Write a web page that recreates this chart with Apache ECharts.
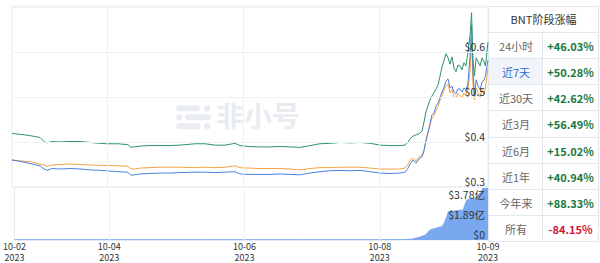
<!DOCTYPE html>
<html><head><meta charset="utf-8">
<script src="https://cdn.jsdelivr.net/npm/echarts@6/dist/echarts.min.js"></script>
<style>html,body{margin:0;padding:0;background:#fff}#c{width:600px;height:263px}</style>
</head><body><div id="c"></div>
<script>
// hours since 2023-10-02 00:00
const hours = [14.4,17.2,20.8,24.3,25.7,26.8,28.5,31.3,34.9,38.4,41.9,45.5,47.9,51.8,55.3,56.4,57.5,59.6,63.1,66.6,70.2,73.7,79.0,82.5,86.1,89.6,93.1,94.9,97.7,101.9,105.5,109.0,112.5,116.1,119.6,123.1,126.6,130.2,133.7,137.2,140.8,144.3,147.8,151.3,153.1,154.2,154.9,155.9,157.0,158.0,159.1,159.8,160.5,161.2,161.9,162.6,163.3,164.1,164.8,165.5,166.2,166.9,167.6,168.3,169.0,169.7,170.4,171.1,171.8,172.5,173.2,173.9,174.6,175.3,176.1,176.6,177.1,177.6,178.2,178.9,179.6,180.3,181.0,181.5,182.4];
const greenLine = [0.419,0.417,0.414,0.410,0.401,0.398,0.401,0.400,0.401,0.401,0.399,0.397,0.396,0.396,0.394,0.388,0.389,0.391,0.392,0.392,0.392,0.393,0.396,0.396,0.393,0.393,0.397,0.392,0.390,0.389,0.389,0.390,0.389,0.388,0.392,0.396,0.397,0.399,0.398,0.399,0.397,0.393,0.392,0.392,0.393,0.400,0.407,0.413,0.416,0.418,0.424,0.444,0.467,0.480,0.493,0.502,0.509,0.518,0.527,0.547,0.567,0.582,0.596,0.587,0.573,0.589,0.564,0.556,0.571,0.569,0.560,0.576,0.569,0.598,0.638,0.687,0.582,0.547,0.587,0.578,0.569,0.587,0.578,0.569,0.622];
const orangeLine = [0.360,0.358,0.356,0.351,0.349,0.346,0.349,0.350,0.351,0.350,0.349,0.348,0.348,0.347,0.346,0.340,0.340,0.342,0.343,0.344,0.344,0.344,0.343,0.344,0.343,0.344,0.347,0.343,0.342,0.341,0.341,0.341,0.340,0.338,0.341,0.343,0.343,0.344,0.344,0.344,0.342,0.340,0.340,0.340,0.342,0.351,0.360,0.364,0.358,0.367,0.369,0.382,0.404,0.420,0.436,0.453,0.458,0.471,0.478,0.493,0.504,0.516,0.524,0.529,0.509,0.516,0.500,0.498,0.507,0.504,0.498,0.509,0.504,0.516,0.560,0.631,0.527,0.493,0.520,0.509,0.500,0.516,0.507,0.520,0.564];
const blueLine = [0.360,0.357,0.352,0.347,0.340,0.337,0.341,0.340,0.341,0.340,0.338,0.337,0.336,0.334,0.333,0.326,0.327,0.329,0.330,0.331,0.331,0.332,0.333,0.333,0.332,0.333,0.334,0.329,0.328,0.328,0.328,0.329,0.328,0.327,0.331,0.334,0.336,0.337,0.336,0.337,0.334,0.331,0.330,0.331,0.333,0.342,0.351,0.360,0.353,0.362,0.367,0.380,0.402,0.420,0.440,0.460,0.464,0.480,0.487,0.500,0.511,0.522,0.536,0.540,0.520,0.524,0.511,0.507,0.518,0.518,0.511,0.520,0.516,0.529,0.593,0.660,0.556,0.502,0.538,0.524,0.516,0.533,0.538,0.547,0.582];
// volume, in 亿
const volHours = [14.4,45.5,80.8,116.1,144.3,151.3,153.1,155.6,158.4,160.2,161.9,164.1,166.1,166.9,167.8,168.3,170.7,173.6,174.2,174.9,176.7,177.7,178.9,179.9,180.6,182.4];
const volume = [0.02,0.02,0.02,0.02,0.02,0.03,0.04,0.09,0.28,0.47,0.95,1.13,1.26,1.6,2.2,2.67,2.74,2.84,3.3,3.78,3.87,3.97,4.25,4.54,4.91,5.0];
const xLabelHours = [14.4,48,96,144,182.4];
const xGridHours = [48,96,144];
const yearLabel = '2023';
const priceTicks = [0.3,0.4,0.5,0.6];
const volumeTicks = [0,1.89,3.78];
const periodLabels = ['24小时','近7天','近30天','近3月','近6月','近1年','今年来','所有'];
const periodChanges = ['+46.03%','+50.28%','+42.62%','+56.49%','+15.02%','+40.94%','+88.33%','-84.15%'];
const tableTitle = 'BNT阶段涨幅';

const FONT = '"Noto Sans CJK SC","Noto Sans",sans-serif';
const chart = echarts.init(document.getElementById('c'), null, {renderer:'svg'});
const dateLabel = v => '10-' + String(2 + Math.floor(v/24 + 1e-6)).padStart(2,'0');
const gridMark = {symbol:['none','none'], silent:true, label:{show:false},
  lineStyle:{color:'#eef1f5', width:1, type:'solid'}, data: xGridHours.map(h=>({xAxis:h}))};
const pair = arr => hours.map((h,i)=>[h, arr[i]]);

// table graphics
const tX0 = 488, tX1 = 542, tX2 = 599, tTop = 6, hdrH = 26, rowH = 26.125;
const gfx = [];
// watermark
const wm = '#e9ecf1';
gfx.push({type:'group', left:176, top:105, z:-10, children:[
  {type:'rect', shape:{x:0,y:0,width:24,height:6,r:3}, style:{fill:wm}},
  {type:'circle', shape:{cx:31,cy:3,r:3.3}, style:{fill:wm}},
  {type:'circle', shape:{cx:3,cy:12,r:3.3}, style:{fill:wm}},
  {type:'rect', shape:{x:9,y:9,width:26,height:6,r:3}, style:{fill:wm}},
  {type:'rect', shape:{x:0,y:18,width:24,height:6,r:3}, style:{fill:wm}},
  {type:'circle', shape:{cx:31,cy:21,r:3.3}, style:{fill:wm}}
]});
gfx.push({type:'text', left:216, top:101, z:-10, style:{text:'非小号', fill:wm, font:'bold 28px "Noto Sans CJK SC"'}});
gfx.push({type:'rect', shape:{x:tX0+0.5, y:tTop+0.5, width:tX2-tX0-1, height:hdrH+rowH*8}, style:{fill:'#fff', stroke:'#e3e7ee', lineWidth:1}});
gfx.push({type:'text', x:(tX0+tX2)/2, y:tTop+hdrH/2, style:{text:tableTitle, fill:'#333', font:'11px '+FONT, align:'center', verticalAlign:'middle'}});
periodLabels.forEach((lab,i)=>{
  const top = tTop + hdrH + i*rowH;
  if (i === 1) gfx.push({type:'rect', shape:{x:tX0+1, y:top+0.5, width:tX1-tX0-1, height:rowH-1}, style:{fill:'#f1f4f9'}});
  gfx.push({type:'line', shape:{x1:tX0, y1:Math.round(top)+0.5, x2:tX2, y2:Math.round(top)+0.5}, style:{stroke:'#e3e7ee', lineWidth:1}});
  gfx.push({type:'text', x:(tX0+tX1)/2+1, y:top+rowH/2+1, style:{text:lab, fill: i===1?'#2f6fd6':'#666', font:'11px '+FONT, align:'center', verticalAlign:'middle'}});
  const neg = periodChanges[i].charAt(0)==='-';
  gfx.push({type:'text', x:(tX1+tX2)/2, y:top+rowH/2+1, style:{text:periodChanges[i], fill: neg?'#d2183b':'#177a43', font:'bold 11px '+FONT, align:'center', verticalAlign:'middle'}});
});
gfx.push({type:'line', shape:{x1:tX1+0.5, y1:tTop+hdrH, x2:tX1+0.5, y2:tTop+hdrH+rowH*8}, style:{stroke:'#e3e7ee', lineWidth:1}});

chart.setOption({
  animation:false,
  textStyle:{fontFamily:FONT},
  grid:[
    {left:12, top:6, width:476, height:181, show:true, borderColor:'#e6eaf1', borderWidth:1},
    {left:12, top:187, width:476, height:53, show:true, borderColor:'#e6eaf1', borderWidth:1}
  ],
  xAxis:[
    {type:'value', gridIndex:0, min:14.4, max:182.4, axisLine:{show:false}, axisTick:{show:false}, axisLabel:{show:false}, splitLine:{show:false}},
    {type:'value', gridIndex:1, position:'bottom', offset:0, min:14.4, max:182.4, axisLine:{show:false}, axisTick:{show:false}, splitLine:{show:false},
     axisLabel:{customValues:xLabelHours, formatter:dateLabel, color:'#333', fontSize:9, lineHeight:10, margin:1.5, fontFamily:FONT}},
    {type:'value', gridIndex:1, position:'bottom', offset:0, min:14.4, max:182.4, axisLine:{show:false}, axisTick:{show:false}, splitLine:{show:false},
     axisLabel:{customValues:xLabelHours, formatter:()=>yearLabel, color:'#333', fontSize:9, lineHeight:10, margin:12, fontFamily:FONT}}
  ],
  yAxis:[
    {type:'value', gridIndex:0, position:'right', min:0.3, max:0.702, interval:0.1, z:10,
     axisLine:{show:false}, axisTick:{show:false}, splitLine:{lineStyle:{color:'#eef1f5'}},
     axisLabel:{inside:true, customValues:priceTicks, formatter:v=>'$'+v.toFixed(1), color:'#333', fontSize:10.5, verticalAlign:'bottom', margin:3, fontFamily:FONT}},
    {type:'value', gridIndex:1, position:'right', min:0, max:5.0, interval:1.89, z:10,
     axisLine:{show:false}, axisTick:{show:false}, splitLine:{show:false},
     axisLabel:{inside:true, customValues:volumeTicks, formatter:v=> v===0?'$0':'$'+v.toFixed(2)+'亿', color:'#333', fontSize:10.5, verticalAlign:'bottom', margin:3, fontFamily:FONT}}
  ],
  series:[
    {type:'line', name:'成交额', xAxisIndex:1, yAxisIndex:1, showSymbol:false, data:volHours.map((h,i)=>[h,volume[i]]),
     lineStyle:{color:'#7aa8ef', width:1}, areaStyle:{color:'#7aa8ef', opacity:1}, itemStyle:{color:'#7aa8ef'}, markLine:gridMark, z:1},
    {type:'line', name:'橙', xAxisIndex:0, yAxisIndex:0, showSymbol:false, data:pair(orangeLine), lineStyle:{color:'#f5a346', width:1}, itemStyle:{color:'#f5a346'}, markLine:gridMark, z:2},
    {type:'line', name:'蓝', xAxisIndex:0, yAxisIndex:0, showSymbol:false, data:pair(blueLine), lineStyle:{color:'#4b7fdc', width:1}, itemStyle:{color:'#4b7fdc'}, z:3},
    {type:'line', name:'绿', xAxisIndex:0, yAxisIndex:0, showSymbol:false, data:pair(greenLine), lineStyle:{color:'#2e946a', width:1}, itemStyle:{color:'#2e946a'}, z:4}
  ],
  graphic: gfx
});
</script></body></html>
